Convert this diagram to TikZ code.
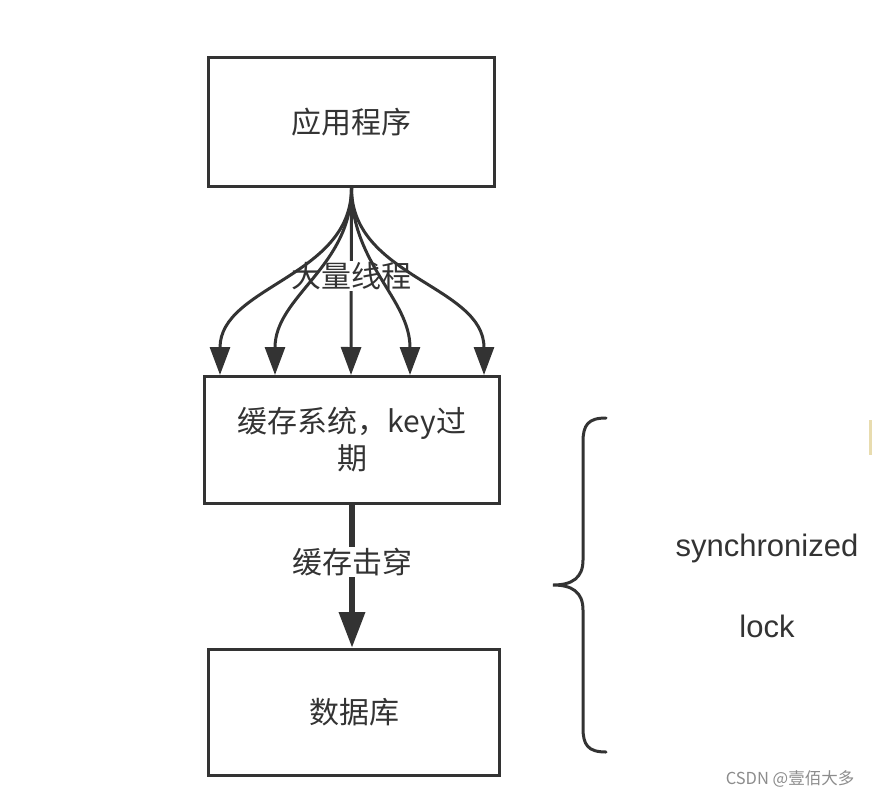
\documentclass[tikz,border=0pt]{standalone}
\usepackage{fontspec}
\setmainfont{Liberation Sans}
\newfontfamily\cjk{Noto Sans CJK SC}
\usetikzlibrary{arrows.meta}
\definecolor{ink}{HTML}{333333}

\begin{document}
\begin{tikzpicture}[x=1pt,y=-1pt,
  box/.style={draw=ink,line width=3pt,inner sep=0pt,text=ink,align=center,
    font=\cjk\fontsize{30}{37}\selectfont},
  thread/.style={draw=ink,line width=3pt,-{Triangle[length=28pt,width=20pt]}},
  hit/.style={draw=ink,line width=6.5pt,-{Triangle[length=36pt,width=25pt]}},
  lbl/.style={fill=white,inner sep=1pt,text=ink,font=\cjk\fontsize{30}{36}\selectfont},
  note/.style={text=ink,font=\fontsize{31}{36}\selectfont}]
\useasboundingbox (0,0) rectangle (872,798);
% boxes
\node[box,minimum width=286pt,minimum height=129pt] (app) at (351.5,122) {应用程序};
\node[box,minimum width=295pt,minimum height=127pt] (cache) at (352,440) {缓存系统，key过\\期};
\node[box,minimum width=291pt,minimum height=126pt] (db) at (354,712.5) {数据库};
% many threads
\draw[thread] (app.south) -- ([xshift=-1pt]cache.north)
  node[lbl,pos=0.47] (threads) {大量线程};
\draw[thread] (app.south) to[out=-90,in=90] ([xshift=-132pt]cache.north);
\draw[thread] (app.south) to[out=-90,in=90] ([xshift=-77pt]cache.north);
\draw[thread] (app.south) to[out=-90,in=90] ([xshift=58pt]cache.north);
\draw[thread] (app.south) to[out=-90,in=90] ([xshift=132pt]cache.north);
% breakdown
\draw[hit] (cache.south) -- (cache.south |- db.north) node[lbl,pos=0.4] (pierce) {缓存击穿};
% lock
\draw[ink,line width=3pt,line cap=round] (606,418) .. controls (588,418) and (583,425) .. (583,442)
  -- (583,560) .. controls (583,578) and (572,585) .. (553,585)
  .. controls (572,585) and (583,592) .. (583,610)
  -- (583,728) .. controls (583,745) and (588,752) .. (606,752);
\node[note] (sync) at (767,548) {synchronized};
\node[note] (lock) at (767,626) {lock};
\fill[fill={rgb,255:red,232;green,220;blue,175}] (868.5,420) rectangle (872,455);
\node[text=black!45,font=\cjk\fontsize{16.5}{16.5}\selectfont] (mark) at (790,779) {CSDN @壹佰大多};
\end{tikzpicture}
\end{document}
